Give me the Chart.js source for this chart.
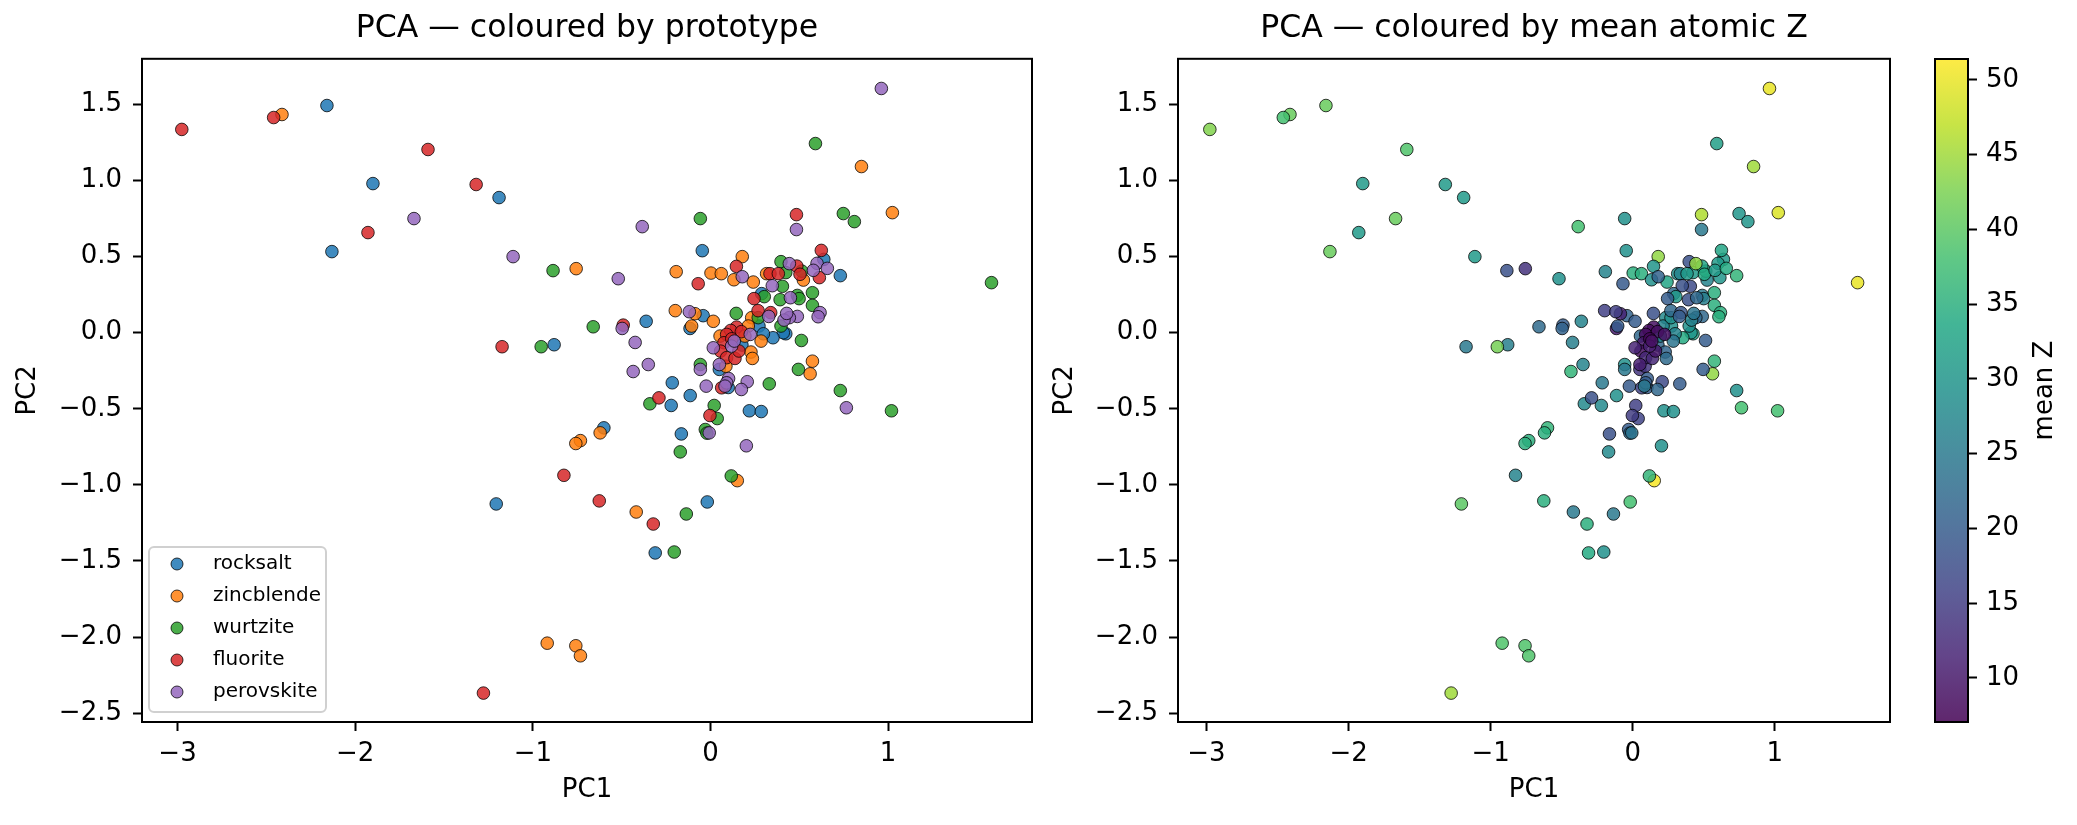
<!DOCTYPE html>
<html>
<head>
<meta charset="utf-8">
<script src="https://cdn.jsdelivr.net/npm/chart.js@4.4.1/dist/chart.umd.min.js"></script>
<style>
  body { margin: 0; background: #fff; width: 2077px; height: 825px; overflow: hidden; position: relative; }
  canvas { position: absolute; top: 0; }
</style>
</head>
<body>
<canvas id="left" width="1040" height="825" style="left:0;width:1040px;height:825px"></canvas>
<canvas id="right" width="858" height="825" style="left:1037px;width:858px;height:825px"></canvas>
<canvas id="cbar" width="182" height="825" style="left:1895px;width:182px;height:825px"></canvas>
<script>
// ---- data ----
const prototypes = ['rocksalt', 'zincblende', 'wurtzite', 'fluorite', 'perovskite'];

const rocksaltPC1 = [-2.159,-1.900,-1.190,-2.131,-0.880,-0.046,0.638,0.731,0.288,0.424,0.410,0.352,0.273,0.298,0.177,0.050,-0.215,0.100,-0.041,-0.362,-0.115,-0.221,-0.114,0.219,0.286,-0.600,-0.164,-0.018,-0.311,-1.206];
const rocksaltPC2 = [1.493,0.980,0.888,0.533,-0.079,0.539,0.482,0.375,0.257,-0.007,0.000,-0.033,0.044,-0.007,-0.081,-0.241,-0.329,-0.360,0.112,0.075,0.028,-0.478,-0.413,-0.513,-0.518,-0.625,-0.665,-1.112,-1.447,-1.125];
const rocksaltZ   = [41,31,31,41,26,29,31,36,22,33,30,34,29,27,22,14,25,20,21,27,10.5,28,29,29,29,36,18,38,34,40];

const zincblendePC1 = [-2.412,-0.756,0.850,1.024,0.179,-0.193,0.003,0.061,0.132,0.241,0.316,0.523,0.232,0.213,0.285,0.054,0.194,0.228,0.236,0.087,0.574,0.561,-0.198,-0.087,0.016,-0.106,-0.621,-0.732,-0.758,0.151,-0.418,-0.919,-0.758,-0.732];
const zincblendePC2 = [1.434,0.421,1.092,0.789,0.500,0.401,0.392,0.388,0.348,0.333,0.388,0.346,0.099,0.044,-0.055,-0.022,-0.022,-0.127,-0.169,-0.220,-0.187,-0.270,0.145,0.125,0.075,0.044,-0.658,-0.709,-0.728,-0.972,-1.178,-2.040,-2.057,-2.123];
const zincblendeZ   = [41,13.5,45,49,44,27,35,35,29,33,29,27,28,27,24,22,27,21.5,22.5,14,36,44,15.5,11.5,20,20,35,35,35,51,25,39,39,39];

const wurtzitePC1 = [-0.886,-0.660,-0.953,0.591,0.748,0.810,-0.057,1.582,0.397,0.424,0.514,0.405,0.303,0.392,0.489,0.499,0.574,0.574,0.397,0.512,0.495,0.731,0.331,0.145,0.269,-0.057,-0.341,0.021,0.038,1.019,-0.029,-0.020,-0.170,0.117,-0.136,-0.204];
const wurtzitePC2 = [0.408,0.039,-0.092,1.243,0.783,0.730,0.750,0.329,0.467,0.395,0.405,0.305,0.237,0.217,0.245,0.224,0.263,0.180,0.044,-0.051,-0.241,-0.380,-0.336,0.127,0.099,-0.209,-0.467,-0.478,-0.564,-0.513,-0.636,-0.660,-0.783,-0.941,-1.191,-1.441];
const wurtziteZ   = [18,22.5,42,32,30,30,29,50,18,31,34,17,31,18,25,26,35,35,29,20,20,29,20,18,29,29,28,15.5,16,38,20,22,28,36,25,29];

const fluoritePC1 = [-2.976,-2.459,-1.590,-1.319,-1.928,-1.173,0.484,0.146,-0.069,0.335,0.382,0.486,0.504,0.613,0.624,0.245,0.268,0.339,0.147,0.114,0.091,0.174,0.076,0.057,0.091,0.138,0.063,-0.491,-0.290,-0.003,-0.825,-0.626,-0.322,-1.278,0.120,0.160];
const fluoritePC2 = [1.336,1.414,1.204,0.974,0.658,-0.092,0.776,0.436,0.322,0.388,0.388,0.438,0.384,0.362,0.541,0.224,0.145,0.132,0.037,0.015,-0.011,0.007,-0.066,-0.121,-0.164,-0.169,-0.362,0.050,-0.428,-0.544,-0.937,-1.105,-1.257,-2.368,-0.040,-0.120];
const fluoriteZ   = [43,38,39,31,31,25,46,30,19.5,27,31,33,34,30,33,20,22,19,9,8.5,8.5,9,10,9,12,12,16,20,18,15,27,35,35,45,8,10];

const perovskitePC1 = [-1.669,-1.111,0.962,0.484,-0.384,-0.519,0.179,0.444,0.600,0.579,0.658,0.348,0.450,0.617,0.606,0.489,0.444,0.414,0.429,0.328,0.224,0.119,0.134,0.016,-0.057,0.050,-0.024,0.102,0.091,0.082,0.207,0.174,-0.119,-0.497,-0.424,-0.350,-0.435,0.765,-0.007,0.202];
const perovskitePC2 = [0.750,0.500,1.605,0.678,0.697,0.355,0.368,0.454,0.456,0.410,0.423,0.309,0.230,0.132,0.105,0.107,0.099,0.083,0.127,0.107,-0.011,-0.088,-0.055,-0.099,-0.241,-0.209,-0.351,-0.301,-0.329,-0.351,-0.322,-0.373,0.138,0.028,-0.064,-0.209,-0.255,-0.493,-0.658,-0.743];
const perovskiteZ   = [41,31,50,25,38,29,21,44,31,31,34,18,22,35,35,22,22,27,24,20,9,11,9,11.5,25,11,19.5,20,20,25,17,22,15.5,21,26,27,36,38,24,29];

const pc1Ticks = [-3, -2, -1, 0, 1];
const pc2Ticks = [-2.5, -2.0, -1.5, -1.0, -0.5, 0.0, 0.5, 1.0, 1.5];
const zTicks = [10, 15, 20, 25, 30, 35, 40, 45, 50];
const zMin = 7.05, zMax = 51.4;
const pc1Min = -3.2, pc1Max = 1.81;
const pc2Min = -2.558, pc2Max = 1.80;

const protoPC1 = [rocksaltPC1, zincblendePC1, wurtzitePC1, fluoritePC1, perovskitePC1];
const protoPC2 = [rocksaltPC2, zincblendePC2, wurtzitePC2, fluoritePC2, perovskitePC2];
const protoZ = [rocksaltZ, zincblendeZ, wurtziteZ, fluoriteZ, perovskiteZ];

// ---- styling ----
const protoColors = ['rgba(31,119,180,0.85)', 'rgba(255,127,14,0.85)', 'rgba(44,160,44,0.85)',
                     'rgba(214,39,40,0.85)', 'rgba(148,103,189,0.85)'];
const edge = 'rgba(0,0,0,0.85)';
const viridisStops = [[68,1,84],[72,36,117],[65,68,135],[53,95,141],[42,120,142],[33,145,140],
                      [34,168,132],[68,191,112],[122,209,81],[189,223,38],[253,231,37]];

function viridis(t, a) {
  t = Math.min(1, Math.max(0, t)) * (viridisStops.length - 1);
  const i = Math.min(Math.floor(t), viridisStops.length - 2), f = t - i;
  const c = viridisStops[i].map((v, k) => Math.round(v + (viridisStops[i + 1][k] - v) * f));
  return `rgba(${c[0]},${c[1]},${c[2]},${a})`;
}

function fmt(v, d) { return (v < 0 ? '\u2212' : '') + Math.abs(v).toFixed(d); }

Chart.defaults.font.family = 'DejaVu Sans';
Chart.defaults.color = '#000';

const frame = {
  id: 'frame',
  afterDraw(c) {
    const a = c.chartArea, ctx = c.ctx;
    ctx.save();
    ctx.strokeStyle = '#000';
    ctx.lineWidth = 2;
    ctx.strokeRect(a.left, a.top, a.right - a.left, a.bottom - a.top);
    ctx.restore();
  }
};

const protoLegend = {
  id: 'protoLegend',
  afterDraw(c) {
    const a = c.chartArea, ctx = c.ctx;
    const w = 177, h = 165, x = a.left + 7, y = a.bottom - 10 - h;
    ctx.save();
    ctx.beginPath();
    ctx.roundRect(x, y, w, h, 5);
    ctx.fillStyle = 'rgba(255,255,255,0.8)';
    ctx.fill();
    ctx.strokeStyle = '#d0d0d0';
    ctx.lineWidth = 2;
    ctx.stroke();
    ctx.font = '20px "DejaVu Sans"';
    ctx.textBaseline = 'middle';
    prototypes.forEach((name, i) => {
      const cy = y + 17 + i * 32;
      ctx.beginPath();
      ctx.arc(x + 28, cy, 6, 0, Math.PI * 2);
      ctx.fillStyle = protoColors[i];
      ctx.fill();
      ctx.lineWidth = 0.9;
      ctx.strokeStyle = edge;
      ctx.stroke();
      ctx.fillStyle = '#000';
      ctx.fillText(name, x + 64, cy);
    });
    ctx.restore();
  }
};

const zLabel = {
  id: 'zLabel',
  afterDraw(c) {
    const a = c.chartArea, ctx = c.ctx;
    ctx.save();
    ctx.translate(150, (a.top + a.bottom) / 2);
    ctx.rotate(-Math.PI / 2);
    ctx.font = '26px "DejaVu Sans"';
    ctx.textAlign = 'center';
    ctx.textBaseline = 'middle';
    ctx.fillStyle = '#000';
    ctx.fillText('mean Z', 0, 0);
    ctx.restore();
  }
};

function pcScales(yWidth) {
  const grid = { drawOnChartArea: false, drawTicks: true, tickLength: 9, tickColor: '#000', tickWidth: 2 };
  return {
    x: {
      type: 'linear', min: pc1Min, max: pc1Max,
      afterBuildTicks: s => { s.ticks = pc1Ticks.map(v => ({ value: v })); },
      afterFit: s => { s.height = 103; },
      grid: grid, border: { display: false },
      ticks: { font: { size: 26 }, padding: 8, maxRotation: 0, autoSkip: false, callback: v => fmt(v, 0) },
      title: { display: true, text: 'PC1', font: { size: 26 }, padding: { top: 0, bottom: 19 } }
    },
    y: {
      type: 'linear', min: pc2Min, max: pc2Max,
      afterBuildTicks: s => { s.ticks = pc2Ticks.map(v => ({ value: v })); },
      afterFit: s => { s.width = yWidth; },
      grid: grid, border: { display: false },
      ticks: { font: { size: 26 }, padding: 11, autoSkip: false, callback: v => fmt(v, 1) },
      title: { display: true, text: 'PC2', font: { size: 26 }, padding: { top: 13, bottom: 0 } }
    }
  };
}

function titleOpts(text) {
  return { display: true, text: text, fullSize: false, font: { size: 31.5, weight: 'normal' },
           padding: { top: 10, bottom: 11 }, color: '#000' };
}

const pointStyle = { pointRadius: 6.3, pointBorderWidth: 0.9, pointBorderColor: edge, pointHoverRadius: 6.3 };

// left: coloured by prototype
new Chart(document.getElementById('left'), {
  type: 'scatter',
  data: {
    datasets: prototypes.map((name, i) => Object.assign({
      label: name,
      data: protoPC1[i].map((x, j) => ({ x: x, y: protoPC2[i][j] })),
      backgroundColor: protoColors[i],
      order: prototypes.length - i
    }, pointStyle))
  },
  options: {
    responsive: false, devicePixelRatio: 1, animation: false, events: [],
    layout: { padding: { left: 0, right: 8, top: 0, bottom: 0 }, autoPadding: false },
    plugins: { legend: { display: false }, tooltip: { enabled: false },
               title: titleOpts('PCA \u2014 coloured by prototype') },
    scales: pcScales(142)
  },
  plugins: [frame, protoLegend]
});

// right: coloured by mean atomic Z
const allPoints = [], allColors = [];
prototypes.forEach((name, i) => {
  protoPC1[i].forEach((x, j) => {
    allPoints.push({ x: x, y: protoPC2[i][j] });
    allColors.push(viridis((protoZ[i][j] - zMin) / (zMax - zMin), 0.85));
  });
});

new Chart(document.getElementById('right'), {
  type: 'scatter',
  data: { datasets: [Object.assign({ label: 'mean Z', data: allPoints, backgroundColor: allColors }, pointStyle)] },
  options: {
    responsive: false, devicePixelRatio: 1, animation: false, events: [],
    layout: { padding: { left: 0, right: 5, top: 0, bottom: 0 }, autoPadding: false },
    plugins: { legend: { display: false }, tooltip: { enabled: false },
               title: titleOpts('PCA \u2014 coloured by mean atomic Z') },
    scales: pcScales(141)
  },
  plugins: [frame]
});

// colorbar
new Chart(document.getElementById('cbar'), {
  type: 'bar',
  data: {
    labels: ['mean Z'],
    datasets: [{
      data: [[zMin, zMax]],
      backgroundColor: c => {
        const a = c.chart.chartArea;
        if (!a) return null;
        const g = c.chart.ctx.createLinearGradient(0, a.bottom, 0, a.top);
        viridisStops.forEach((s, i) => g.addColorStop(i / (viridisStops.length - 1), `rgba(${s[0]},${s[1]},${s[2]},0.85)`));
        return g;
      },
      borderWidth: 0, barPercentage: 1, categoryPercentage: 1
    }]
  },
  options: {
    responsive: false, devicePixelRatio: 1, animation: false, events: [],
    layout: { padding: { left: 40, right: 0, top: 59, bottom: 103 }, autoPadding: false },
    plugins: { legend: { display: false }, tooltip: { enabled: false } },
    scales: {
      x: { display: false },
      y: {
        position: 'right', min: zMin, max: zMax,
        afterBuildTicks: s => { s.ticks = zTicks.map(v => ({ value: v })); },
        afterFit: s => { s.width = 109; },
        grid: { drawOnChartArea: false, drawTicks: true, tickLength: 9, tickColor: '#000', tickWidth: 2 },
        border: { display: false },
        ticks: { font: { size: 26 }, padding: 9, autoSkip: false, callback: v => String(v) }
      }
    }
  },
  plugins: [frame, zLabel]
});
</script>
</body>
</html>
